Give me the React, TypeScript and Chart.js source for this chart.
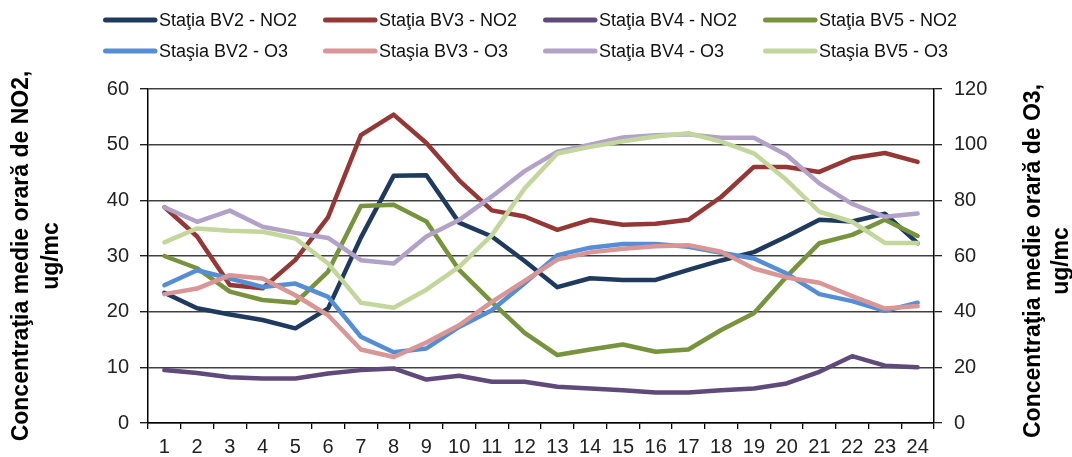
import React, { useEffect, useRef } from "react";
import { Chart, registerables } from "chart.js";

Chart.register(...registerables);

const hours = ["1","2","3","4","5","6","7","8","9","10","11","12","13","14","15","16","17","18","19","20","21","22","23","24"];

const bv2NO2 = [23.4, 20.6, 19.5, 18.5, 17.0, 20.6, 33.3, 44.4, 44.5, 36.0, 33.5, 29.1, 24.4, 26.0, 25.7, 25.7, 27.5, 29.2, 30.7, 33.5, 36.5, 36.2, 37.6, 32.3];
const bv3NO2 = [38.8, 33.5, 24.8, 24.2, 29.3, 37.0, 51.7, 55.4, 50.3, 43.6, 38.2, 37.1, 34.7, 36.5, 35.6, 35.8, 36.5, 40.6, 46.0, 46.0, 45.1, 47.6, 48.5, 46.9];
const bv4NO2 = [9.5, 9.0, 8.2, 8.0, 8.0, 8.9, 9.5, 9.8, 7.8, 8.5, 7.4, 7.4, 6.5, 6.2, 5.9, 5.5, 5.5, 5.9, 6.2, 7.1, 9.2, 12.0, 10.3, 10.0];
const bv5NO2 = [30.0, 27.8, 23.6, 22.1, 21.6, 27.2, 39.0, 39.2, 36.2, 27.5, 21.7, 16.2, 12.2, 13.2, 14.1, 12.8, 13.2, 16.7, 19.7, 26.3, 32.3, 33.8, 36.5, 33.6];
const bv2O3 = [49.5, 54.9, 51.9, 48.9, 50.1, 45.3, 31.0, 25.4, 26.8, 34.5, 40.5, 50.2, 60.3, 63.0, 64.3, 64.3, 63.3, 61.2, 59.1, 53.7, 46.3, 43.8, 40.3, 43.2];
const bv3O3 = [46.3, 48.3, 53.1, 51.9, 45.9, 38.7, 26.4, 23.7, 28.9, 35.1, 43.5, 51.1, 58.7, 61.3, 62.6, 63.5, 63.9, 61.5, 55.5, 52.3, 50.4, 45.6, 41.1, 42.0];
const bv4O3 = [77.5, 72.3, 76.3, 70.5, 68.3, 66.5, 58.5, 57.3, 67.0, 72.9, 81.4, 90.5, 97.5, 100.0, 102.6, 103.4, 103.7, 102.5, 102.5, 96.3, 86.1, 78.7, 74.1, 75.3];
const bv5O3 = [64.9, 69.9, 69.1, 68.7, 66.3, 57.3, 43.2, 41.4, 47.9, 56.1, 67.5, 84.3, 96.8, 99.2, 101.2, 102.9, 104.1, 101.1, 96.9, 87.3, 75.9, 72.3, 64.7, 64.7];

const seriesLabels = [
  "Staţia BV2 - NO2",
  "Staţia BV3 - NO2",
  "Staţia BV4 - NO2",
  "Staţia BV5 - NO2",
  "Staşia BV2 - O3",
  "Staşia BV3 - O3",
  "Staţia BV4 - O3",
  "Staşia BV5 - O3",
];
const seriesColors = ["#1f3a5f", "#953735", "#604a7b", "#77933c", "#558ed5", "#d99694", "#b3a2c7", "#c3d69b"];
const seriesValues = [bv2NO2, bv3NO2, bv4NO2, bv5NO2, bv2O3, bv3O3, bv4O3, bv5O3];
const seriesAxes = ["y", "y", "y", "y", "y2", "y2", "y2", "y2"];

const leftTitle = ["Concentraţia medie orară de NO2,", "ug/mc"];
const rightTitle = ["Concentraţia medie orară de O3,", "ug/mc"];

const FONT = "'Liberation Sans', Arial, sans-serif";

const legendPlugin = {
  id: "gridLegend",
  afterDraw(chart: any) {
    const ctx = chart.ctx;
    const colX = [103, 323, 543, 763];
    const rowY = [20, 51];
    ctx.save();
    ctx.font = `18px ${FONT}`;
    ctx.textBaseline = "middle";
    ctx.textAlign = "left";
    chart.data.datasets.forEach((ds: any, i: number) => {
      const x = colX[i % 4];
      const y = rowY[Math.floor(i / 4)];
      ctx.strokeStyle = ds.borderColor;
      ctx.lineWidth = 5;
      ctx.lineCap = "round";
      ctx.beginPath();
      ctx.moveTo(x + 2.5, y);
      ctx.lineTo(x + 52, y);
      ctx.stroke();
      ctx.fillStyle = "#111";
      ctx.fillText(ds.label, x + 56, y + 1);
    });
    ctx.restore();
  },
};

const rightTitlePlugin = {
  id: "rightTitle",
  afterDraw(chart: any) {
    const ctx = chart.ctx;
    const area = chart.chartArea;
    ctx.save();
    ctx.font = `bold 23px ${FONT}`;
    ctx.fillStyle = "#000";
    ctx.textAlign = "center";
    ctx.textBaseline = "middle";
    ctx.translate(1034, (area.top + area.bottom) / 2 + 5);
    ctx.rotate(-Math.PI / 2);
    rightTitle.forEach((line, i) => ctx.fillText(line, 0, i * 28));
    ctx.restore();
  },
};

export default function App() {
  const canvasRef = useRef<HTMLCanvasElement | null>(null);

  useEffect(() => {
    document.body.style.margin = "0";
    const canvas = canvasRef.current;
    if (!canvas) return;
    const chart = new Chart(canvas, {
      type: "line",
      data: {
        labels: hours,
        datasets: seriesLabels.map((label, i) => ({
          label,
          data: seriesValues[i],
          borderColor: seriesColors[i],
          backgroundColor: seriesColors[i],
          borderWidth: 4.5,
          pointRadius: 0,
          pointHoverRadius: 0,
          tension: 0,
          fill: false,
          borderJoinStyle: "round" as const,
          borderCapStyle: "round" as const,
          yAxisID: seriesAxes[i],
          order: seriesLabels.length - i,
        })),
      },
      options: {
        animation: false,
        responsive: true,
        maintainAspectRatio: false,
        layout: { padding: { top: 89, left: 0, right: 0, bottom: 0 } },
        plugins: {
          legend: { display: false },
          tooltip: { enabled: false },
        },
        scales: {
          x: {
            offset: true,
            grid: { display: true, drawOnChartArea: false, offset: true, tickLength: 6, tickColor: "#000", lineWidth: 1.3 },
            border: { color: "#000", width: 1.5 },
            ticks: { color: "#222", font: { family: FONT, size: 20 }, padding: 6, maxRotation: 0, autoSkip: false },
            afterFit: (s: any) => { s.height = 34; },
          },
          y: {
            position: "left",
            min: 0,
            max: 60,
            ticks: { stepSize: 10, color: "#222", font: { family: FONT, size: 20 }, padding: 11 },
            grid: { color: "#404040", lineWidth: 1.4, tickLength: 8, tickColor: "#222" },
            border: { color: "#000", width: 1.5 },
            title: {
              display: true,
              text: leftTitle,
              color: "#000",
              font: { family: FONT, size: 23, weight: "bold", lineHeight: 1.3 },
              padding: { top: 7, bottom: 0 },
            },
            afterFit: (s: any) => { s.width = 148; },
          },
          y2: {
            position: "right",
            min: 0,
            max: 120,
            ticks: { stepSize: 20, color: "#222", font: { family: FONT, size: 20 }, padding: 12 },
            grid: { drawOnChartArea: false, tickLength: 8, tickColor: "#222", lineWidth: 1.3 },
            border: { color: "#000", width: 1.5 },
            afterFit: (s: any) => { s.width = 138; },
          },
        },
      },
      plugins: [legendPlugin, rightTitlePlugin],
    });
    return () => chart.destroy();
  }, []);

  return (
    <div style={{ position: "absolute", left: 0, top: 0, width: 1072, height: 457, background: "#fff" }}>
      <canvas ref={canvasRef} />
    </div>
  );
}
